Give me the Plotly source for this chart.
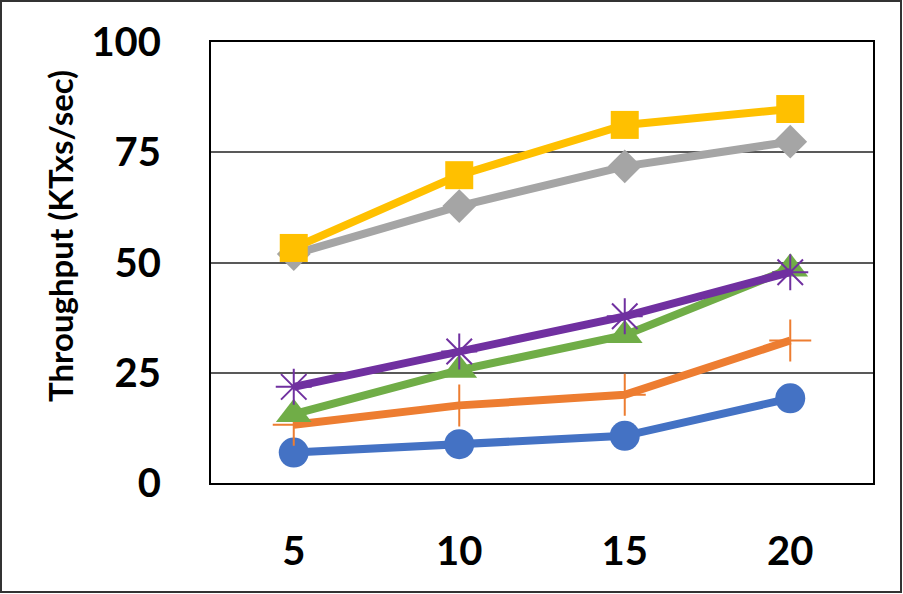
import plotly.graph_objects as go

categories = ["5", "10", "15", "20"]
blue_vals = [6.9, 8.8, 10.7, 19.2]
orange_vals = [13.2, 17.6, 20.0, 32.3]
green_vals = [15.6, 25.6, 33.5, 48.6]
purple_vals = [21.8, 29.8, 37.8, 47.8]
gray_vals = [51.9, 62.8, 71.8, 77.4]
yellow_vals = [53.3, 69.8, 81.2, 84.8]
y_ticks = [0, 25, 50, 75, 100]

W, H = 903, 594
L, R, T, B = 211, 30, 42, 111
pw, ph = W - L - R, H - T - B

fig = go.Figure()

series = [
    (blue_vals, "#4472C4", dict(symbol="circle", size=30)),
    (orange_vals, "#ED7D31", dict(symbol="cross-thin-open", size=30, line=dict(width=2, color="#ED7D31"))),
    (green_vals, "#70AD47", dict(symbol="triangle-up", size=31)),
    (purple_vals, "#7030A0", dict(symbol="asterisk-open", size=30, line=dict(width=2, color="#7030A0"))),
    (gray_vals, "#A5A5A5", dict(symbol="diamond", size=26)),
    (yellow_vals, "#FFC000", dict(symbol="square", size=28)),
]
for vals, col, mk in series:
    m = dict(color=col)
    m.update(mk)
    fig.add_trace(go.Scatter(x=categories, y=vals, mode="lines+markers",
                             line=dict(color=col, width=8), marker=m,
                             showlegend=False, cliponaxis=False))

fig.update_layout(
    width=W, height=H,
    margin=dict(l=L, r=R, t=T, b=B, autoexpand=False),
    paper_bgcolor="white", plot_bgcolor="white",
    font=dict(family="Lato", color="black"),
    xaxis=dict(type="category", range=[-0.5, 3.5], showgrid=False,
               showline=True, mirror=True, linecolor="black", linewidth=2,
               tickfont=dict(size=40, family="Lato", weight="bold"),
               ticks="", ticklabelstandoff=32, automargin=False),
    yaxis=dict(range=[0, 100], tickvals=y_ticks, showgrid=True,
               gridcolor="#595959", gridwidth=1.5, zeroline=False,
               showline=True, mirror=True, linecolor="black", linewidth=2,
               tickfont=dict(size=40, family="Lato", weight="bold"),
               ticks="", ticklabelstandoff=40, automargin=False),
    annotations=[dict(text="Throughput (KTxs/sec)", textangle=-90,
                      xref="paper", yref="paper",
                      x=(60 - L) / pw, y=(H - B - 236) / ph,
                      xanchor="center", yanchor="middle", showarrow=False,
                      font=dict(size=33, family="Lato", weight="bold", color="black"))],
    shapes=[dict(type="rect", xref="paper", yref="paper",
                 x0=(1 - L) / pw, x1=(W - 2 - L) / pw,
                 y0=(H - B - (H - 2)) / ph, y1=(H - B - 1) / ph,
                 line=dict(color="#333333", width=2), layer="below")],
)

fig.write_html("out.html")
